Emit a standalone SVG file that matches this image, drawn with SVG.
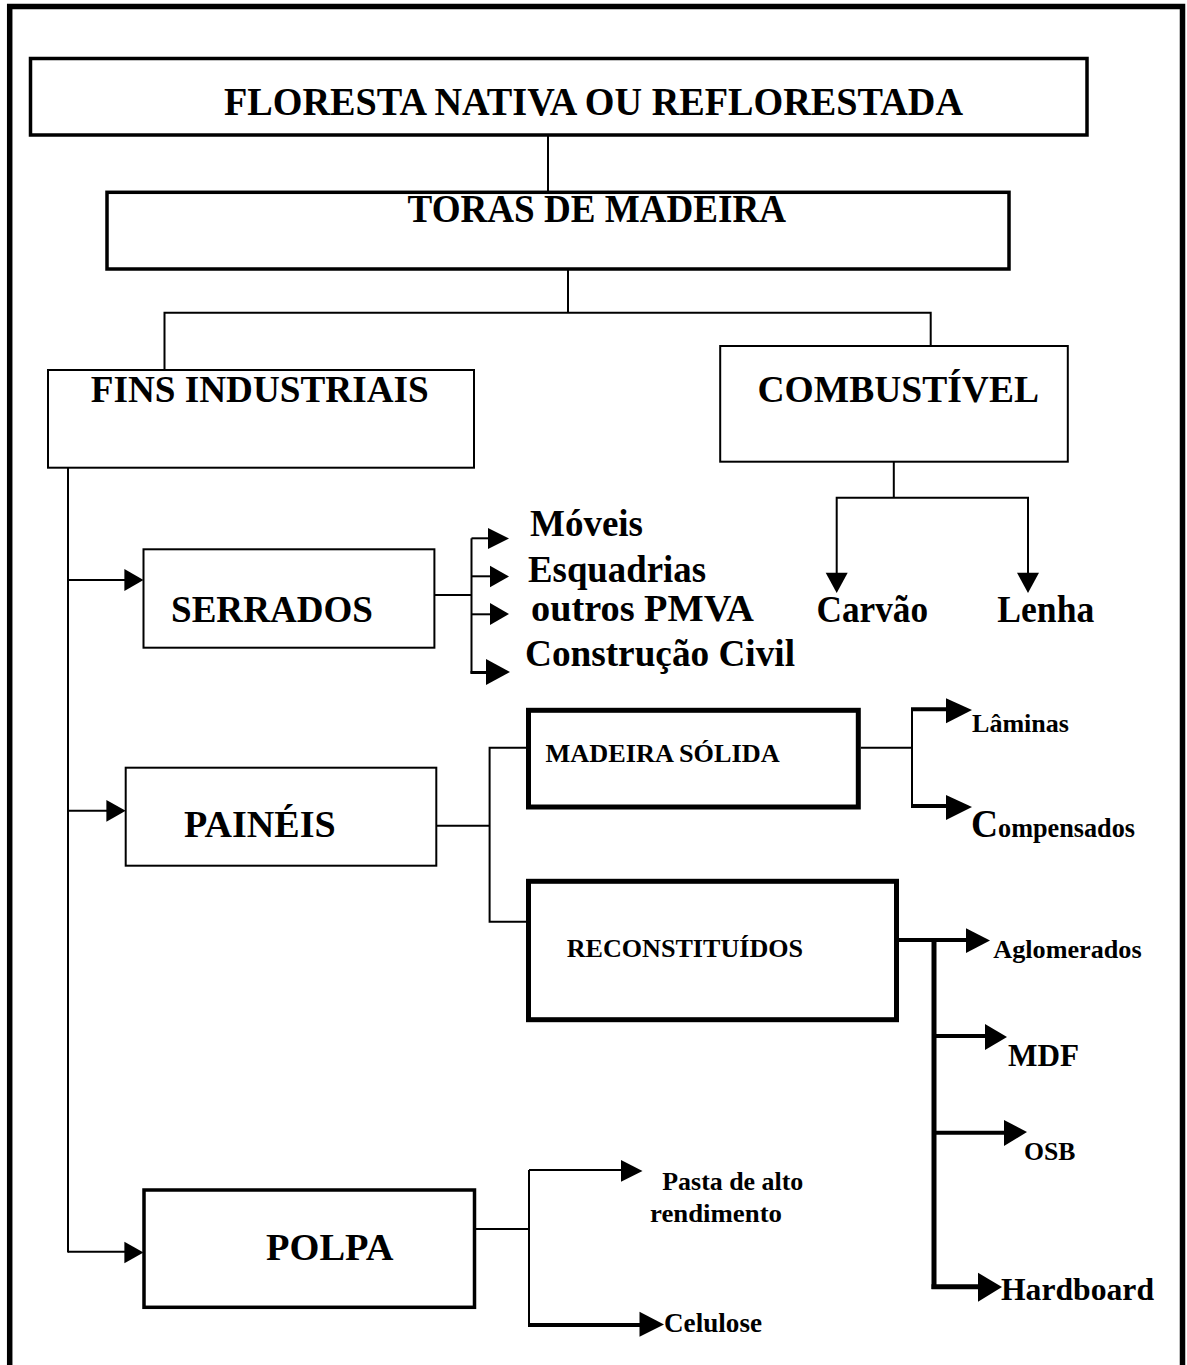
<svg xmlns="http://www.w3.org/2000/svg" width="1187" height="1365" viewBox="0 0 1187 1365">
<style>
  text { font-family: "Liberation Serif", "Times New Roman", serif; font-weight: bold; fill: #000; }
  .box { fill: #fff; stroke: #000; }
  .b2 { stroke-width: 2; }
  .b35 { stroke-width: 3.5; }
  .b5 { stroke-width: 5; }
  .ln { fill: none; stroke: #000; stroke-width: 2; }
  .lt { fill: none; stroke: #000; stroke-width: 4; }
  .ah { fill: #000; stroke: none; }
</style>
<rect x="0" y="0" width="1187" height="1365" fill="#fff"/>
<path d="M 9.7 1370 L 9.7 6.5 L 1182.5 6.5 L 1182.5 1370" fill="none" stroke="#000" stroke-width="5.5"/>

<g id="connectors">
  <line class="ln" x1="548" y1="135" x2="548" y2="192"/>
  <line class="ln" x1="568" y1="269" x2="568" y2="312.7"/>
  <polyline class="ln" points="164.5,370 164.5,312.7 930.7,312.7 930.7,350"/>
  <line class="ln" x1="68" y1="466" x2="68" y2="1252.5"/>
  <line class="ln" x1="68" y1="580" x2="126" y2="580"/>
  <polygon class="ah" points="124.4,569 143.5,580 124.4,591"/>
  <line class="ln" x1="68" y1="810.8" x2="108" y2="810.8"/>
  <polygon class="ah" points="106.4,800 125.7,810.8 106.4,821.7"/>
  <line class="ln" x1="68" y1="1251.7" x2="126" y2="1251.7"/>
  <polygon class="ah" points="124.4,1241.7 143.5,1252.5 124.4,1263.3"/>
  <line class="ln" x1="432.5" y1="595" x2="471.5" y2="595"/>
  <line class="ln" x1="471.5" y1="538.3" x2="471.5" y2="673.5"/>
  <line class="ln" x1="471.5" y1="538.3" x2="490" y2="538.3"/>
  <polygon class="ah" points="488,528 509,538.5 488,549"/>
  <line class="ln" x1="471.5" y1="576.3" x2="491" y2="576.3"/>
  <polygon class="ah" points="490,565.7 509,576.5 490,587.3"/>
  <line class="ln" x1="471.5" y1="614.3" x2="491" y2="614.3"/>
  <polygon class="ah" points="490,603 509,614 490,625"/>
  <line x1="470.5" y1="672.5" x2="488" y2="672.5" stroke="#000" stroke-width="3"/>
  <polygon class="ah" points="486,659 510,672 486,685"/>
  <line class="ln" x1="893.8" y1="461.7" x2="893.8" y2="497.7"/>
  <polyline class="ln" points="836.7,575 836.7,497.7 1028,497.7 1028,575"/>
  <polygon class="ah" points="825.7,572.7 836.7,593 847.7,572.7"/>
  <polygon class="ah" points="1017,572.7 1028,593 1039,572.7"/>
  <line class="ln" x1="431" y1="825.7" x2="489.6" y2="825.7"/>
  <polyline class="ln" points="528.5,747.7 489.6,747.7 489.6,921.7 548,921.7"/>
  <line class="ln" x1="860.8" y1="747.7" x2="912" y2="747.7"/>
  <line class="ln" x1="912" y1="709.3" x2="912" y2="806"/>
  <line class="lt" x1="911" y1="709.3" x2="948" y2="709.3"/>
  <polygon class="ah" points="946,698.3 972,710 946,723.3"/>
  <line class="lt" x1="911" y1="806" x2="948" y2="806"/>
  <polygon class="ah" points="946,795 972,807 946,820"/>
  <line class="lt" x1="897" y1="940" x2="968" y2="940"/>
  <polygon class="ah" points="966,928.3 990,940.5 966,953"/>
  <line x1="934" y1="938" x2="934" y2="1289" stroke="#000" stroke-width="5"/>
  <line class="lt" x1="934" y1="1036" x2="987" y2="1036"/>
  <polygon class="ah" points="985,1024 1007,1037 985,1050"/>
  <line class="lt" x1="934" y1="1132.7" x2="1006" y2="1132.7"/>
  <polygon class="ah" points="1004,1120 1027,1132 1004,1146"/>
  <line x1="931.5" y1="1286.7" x2="980" y2="1286.7" stroke="#000" stroke-width="5"/>
  <polygon class="ah" points="978,1272.7 1002,1287 978,1301.7"/>
  <line class="ln" x1="476" y1="1229" x2="529" y2="1229"/>
  <line class="ln" x1="529" y1="1170" x2="529" y2="1326"/>
  <line class="ln" x1="529" y1="1170" x2="623" y2="1170"/>
  <polygon class="ah" points="621,1160 642.5,1171 621,1181.7"/>
  <line class="lt" x1="528" y1="1325" x2="641" y2="1325"/>
  <polygon class="ah" points="639.5,1311.7 664,1324.5 639.5,1336.7"/>
</g>

<g id="floresta">
  <rect class="box b35" x="30.5" y="58.5" width="1056.5" height="76.5"/>
  <text x="224" y="115" font-size="40" textLength="739" lengthAdjust="spacingAndGlyphs">FLORESTA NATIVA OU REFLORESTADA</text>
</g>
<g id="toras">
  <rect class="box b35" x="107" y="192.3" width="902" height="76.7"/>
  <text x="407.6" y="222" font-size="39" textLength="378.5" lengthAdjust="spacingAndGlyphs">TORAS DE MADEIRA</text>
</g>
<g id="fins-industriais">
  <rect class="box b2" x="48" y="370" width="426" height="97.7"/>
  <text x="90.7" y="401.7" font-size="38" textLength="338" lengthAdjust="spacingAndGlyphs">FINS INDUSTRIAIS</text>
</g>
<g id="combustivel">
  <rect class="box b2" x="720.2" y="346" width="347.6" height="115.7"/>
  <text x="757.5" y="401.7" font-size="38" textLength="281.5" lengthAdjust="spacingAndGlyphs">COMBUSTÍVEL</text>
</g>
<g id="serrados">
  <rect class="box b2" x="143.5" y="549.3" width="290.9" height="98.4"/>
  <text x="171" y="621.7" font-size="38" textLength="202" lengthAdjust="spacingAndGlyphs">SERRADOS</text>
</g>
<g id="moveis"><text x="530" y="536" font-size="37" textLength="113" lengthAdjust="spacingAndGlyphs">Móveis</text></g>
<g id="esquadrias"><text x="528" y="581.7" font-size="37" textLength="178" lengthAdjust="spacingAndGlyphs">Esquadrias</text></g>
<g id="outros-pmva"><text x="531" y="620.7" font-size="37" textLength="223" lengthAdjust="spacingAndGlyphs">outros PMVA</text></g>
<g id="construcao-civil"><text x="525" y="666" font-size="37" textLength="270" lengthAdjust="spacingAndGlyphs">Construção Civil</text></g>
<g id="carvao"><text x="816.5" y="621.7" font-size="37" textLength="111.5" lengthAdjust="spacingAndGlyphs">Carvão</text></g>
<g id="lenha"><text x="997.3" y="621.7" font-size="37" textLength="97" lengthAdjust="spacingAndGlyphs">Lenha</text></g>
<g id="paineis">
  <rect class="box b2" x="125.7" y="767.7" width="310.6" height="98"/>
  <text x="184" y="837.3" font-size="38" textLength="151.7" lengthAdjust="spacingAndGlyphs">PAINÉIS</text>
</g>
<g id="madeira-solida">
  <rect class="box b5" x="528.5" y="710.3" width="329.8" height="96.7"/>
  <text x="545.6" y="761.7" font-size="26" textLength="234" lengthAdjust="spacingAndGlyphs">MADEIRA SÓLIDA</text>
</g>
<g id="laminas"><text x="972" y="731.7" font-size="26" textLength="97" lengthAdjust="spacingAndGlyphs">Lâminas</text></g>
<g id="compensados"><text x="971" y="836.7" font-size="28" textLength="164" lengthAdjust="spacingAndGlyphs"><tspan font-size="40">C</tspan>ompensados</text></g>
<g id="reconstituidos">
  <rect class="box b5" x="528.5" y="881.3" width="368" height="138.4"/>
  <text x="566.7" y="957.3" font-size="26" textLength="236.4" lengthAdjust="spacingAndGlyphs">RECONSTITUÍDOS</text>
</g>
<g id="aglomerados"><text x="993.3" y="958.3" font-size="26" textLength="148.3" lengthAdjust="spacingAndGlyphs">Aglomerados</text></g>
<g id="mdf"><text x="1008" y="1066" font-size="32" textLength="71" lengthAdjust="spacingAndGlyphs">MDF</text></g>
<g id="osb"><text x="1024" y="1160" font-size="26" textLength="51.4" lengthAdjust="spacingAndGlyphs">OSB</text></g>
<g id="hardboard"><text x="1001" y="1300" font-size="32.5" textLength="153" lengthAdjust="spacingAndGlyphs">Hardboard</text></g>
<g id="polpa">
  <rect class="box b35" x="144" y="1190" width="330.5" height="117.3"/>
  <text x="266" y="1260" font-size="38.5" textLength="127.4" lengthAdjust="spacingAndGlyphs">POLPA</text>
</g>
<g id="pasta"><text font-size="26"><tspan x="662.3" y="1190" textLength="141" lengthAdjust="spacingAndGlyphs">Pasta de alto</tspan><tspan x="650" y="1221.7" textLength="132" lengthAdjust="spacingAndGlyphs">rendimento</tspan></text></g>
<g id="celulose"><text x="664" y="1331.7" font-size="27" textLength="98" lengthAdjust="spacingAndGlyphs">Celulose</text></g>
</svg>
